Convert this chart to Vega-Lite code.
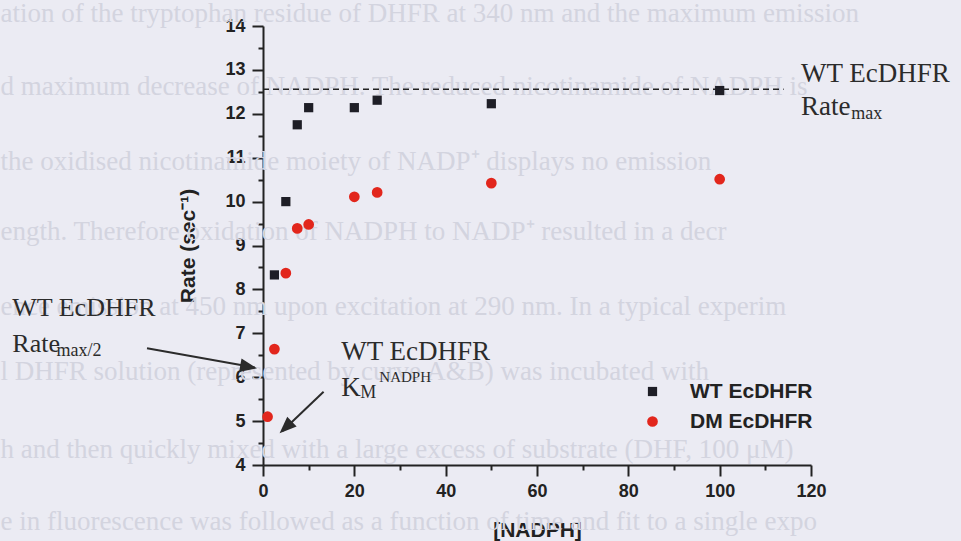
{
  "$schema": "https://vega.github.io/schema/vega-lite/v6.json",
  "width": 548,
  "height": 439,
  "autosize": "none",
  "padding": {"left": 263, "top": 26, "right": 150, "bottom": 76},
  "background": "#ebebf3",
  "config": {
    "view": {"stroke": null},
    "axis": {
      "grid": false,
      "domainColor": "#222222",
      "domainWidth": 2,
      "tickColor": "#222222",
      "tickWidth": 2,
      "tickSize": 11,
      "labelFont": "Liberation Sans",
      "labelFontWeight": "bold",
      "labelFontSize": 18,
      "labelColor": "#222222",
      "titleFont": "Liberation Sans",
      "titleFontWeight": "bold",
      "titleFontSize": 21,
      "titleColor": "#222222"
    }
  },
  "encoding": {
    "x": {
      "field": "x",
      "type": "quantitative",
      "scale": {"domain": [0, 120], "nice": false, "zero": false},
      "axis": {
        "title": "[NADPH]",
        "values": [0, 10, 20, 30, 40, 50, 60, 70, 80, 90, 100, 110, 120],
        "labelExpr": "datum.value % 20 === 0 ? format(datum.value, 'd') : ''",
        "tickDash": {"condition": {"test": "datum.value % 20 !== 0", "value": [5, 20]}, "value": [20, 1]},
        "labelPadding": 6,
        "labelFlush": false,
        "titlePadding": 19
      }
    },
    "y": {
      "field": "y",
      "type": "quantitative",
      "scale": {"domain": [4, 14], "nice": false, "zero": false},
      "axis": {
        "title": "Rate (sec⁻¹)",
        "values": [4, 4.5, 5, 5.5, 6, 6.5, 7, 7.5, 8, 8.5, 9, 9.5, 10, 10.5, 11, 11.5, 12, 12.5, 13, 13.5, 14],
        "labelExpr": "datum.value % 1 === 0 ? format(datum.value, 'd') : ''",
        "tickDash": {"condition": {"test": "datum.value % 1 !== 0", "value": [5, 20]}, "value": [20, 1]},
        "labelPadding": 7,
        "labelFlush": false,
        "titlePadding": 26
      }
    }
  },
  "layer": [
    {
      "description": "Faint page text printed behind the figure",
      "data": {"values": [
        {"x": -57.5, "y": 14.09, "label": "ation of the tryptophan residue of DHFR at 340 nm and the maximum emission"},
        {"x": -57.5, "y": 12.428, "label": "d maximum decrease of NADPH. The reduced nicotinamide of NADPH is"},
        {"x": -57.5, "y": 10.72, "label": "the   oxidised   nicotinamide   moiety   of   NADP⁺   displays   no   emission"},
        {"x": -57.5, "y": 9.125, "label": "ength.   Therefore   oxidation   of   NADPH   to   NADP⁺   resulted   in   a   decr"},
        {"x": -57.5, "y": 7.417, "label": "ence emission at 450 nm upon excitation at 290 nm. In a typical experim"},
        {"x": -57.5, "y": 5.936, "label": "l  DHFR  solution  (represented  by  curve  A&B)  was  incubated  with"},
        {"x": -57.5, "y": 4.159, "label": "h and then quickly mixed with a large excess of substrate (DHF, 100 μM)"},
        {"x": -57.5, "y": 2.519, "label": "e in fluorescence was followed as a function of time and fit to a single expo"}
      ]},
      "mark": {"type": "text", "align": "left", "baseline": "alphabetic", "font": "Liberation Serif", "fontSize": 27, "color": "#d3d4df"},
      "encoding": {"text": {"field": "label"}}
    },
    {
      "description": "Rate max reference line",
      "data": {"values": [{"x": 0, "x2": 114, "y": 12.56}]},
      "mark": {"type": "rule", "color": "#222222", "strokeWidth": 1.6, "strokeDash": [6, 4]},
      "encoding": {"x2": {"field": "x2"}}
    },
    {
      "data": {"values": [
        {"x": 2.5, "y": 8.33, "series": "WT EcDHFR"},
        {"x": 5, "y": 10.0, "series": "WT EcDHFR"},
        {"x": 7.5, "y": 11.75, "series": "WT EcDHFR"},
        {"x": 10, "y": 12.14, "series": "WT EcDHFR"},
        {"x": 20, "y": 12.14, "series": "WT EcDHFR"},
        {"x": 25, "y": 12.31, "series": "WT EcDHFR"},
        {"x": 50, "y": 12.23, "series": "WT EcDHFR"},
        {"x": 100, "y": 12.53, "series": "WT EcDHFR"},
        {"x": 1, "y": 5.1, "series": "DM EcDHFR"},
        {"x": 2.5, "y": 6.64, "series": "DM EcDHFR"},
        {"x": 5, "y": 8.37, "series": "DM EcDHFR"},
        {"x": 7.5, "y": 9.39, "series": "DM EcDHFR"},
        {"x": 10, "y": 9.48, "series": "DM EcDHFR"},
        {"x": 20, "y": 10.11, "series": "DM EcDHFR"},
        {"x": 25, "y": 10.21, "series": "DM EcDHFR"},
        {"x": 50, "y": 10.42, "series": "DM EcDHFR"},
        {"x": 100, "y": 10.51, "series": "DM EcDHFR"}
      ]},
      "mark": {"type": "point", "filled": true, "opacity": 1},
      "encoding": {
        "color": {
          "field": "series",
          "type": "nominal",
          "scale": {"domain": ["WT EcDHFR", "DM EcDHFR"], "range": ["#1e1e26", "#e2261c"]},
          "legend": {
            "title": null,
            "orient": "none",
            "legendX": 379,
            "legendY": 355,
            "padding": 0,
            "rowPadding": 8,
            "labelOffset": 27,
            "labelFont": "Liberation Sans",
            "labelFontWeight": "bold",
            "labelFontSize": 21,
            "labelColor": "#222222",
            "symbolSize": 90
          }
        },
        "shape": {
          "field": "series",
          "type": "nominal",
          "scale": {"domain": ["WT EcDHFR", "DM EcDHFR"], "range": ["square", "circle"]},
          "legend": {
            "title": null,
            "orient": "none",
            "legendX": 379,
            "legendY": 355,
            "padding": 0,
            "rowPadding": 8,
            "labelOffset": 27,
            "labelFont": "Liberation Sans",
            "labelFontWeight": "bold",
            "labelFontSize": 21,
            "labelColor": "#222222",
            "symbolSize": 90
          }
        },
        "size": {
          "field": "series",
          "type": "nominal",
          "scale": {"domain": ["WT EcDHFR", "DM EcDHFR"], "range": [85, 115]},
          "legend": null
        }
      }
    },
    {
      "description": "Annotation text, main size",
      "data": {"values": [
        {"x": 117.8, "y": 12.724, "label": "WT EcDHFR"},
        {"x": 117.8, "y": 11.973, "label": "Rate"},
        {"x": 17.14, "y": 6.392, "label": "WT EcDHFR"},
        {"x": 17.14, "y": 5.572, "label": "K"}
      ]},
      "mark": {"type": "text", "align": "left", "baseline": "alphabetic", "font": "Liberation Serif", "fontSize": 27, "color": "#2b2b2b"},
      "encoding": {"text": {"field": "label"}}
    },
    {
      "description": "Annotation text, left block",
      "data": {"values": [
        {"x": -54.9, "y": 7.394, "label": "WT EcDHFR"},
        {"x": -54.9, "y": 6.581, "label": "Rate"}
      ]},
      "mark": {"type": "text", "align": "left", "baseline": "alphabetic", "font": "Liberation Serif", "fontSize": 26, "color": "#2b2b2b"},
      "encoding": {"text": {"field": "label"}}
    },
    {
      "description": "Subscripts",
      "data": {"values": [
        {"x": 128.8, "y": 11.89, "label": "max"},
        {"x": -45.2, "y": 6.483, "label": "max/2"},
        {"x": 21.3, "y": 5.526, "label": "M"}
      ]},
      "mark": {"type": "text", "align": "left", "baseline": "alphabetic", "font": "Liberation Serif", "fontSize": 18, "color": "#2b2b2b"},
      "encoding": {"text": {"field": "label"}}
    },
    {
      "description": "Superscript",
      "data": {"values": [{"x": 25.47, "y": 5.897, "label": "NADPH"}]},
      "mark": {"type": "text", "align": "left", "baseline": "alphabetic", "font": "Liberation Serif", "fontSize": 15, "color": "#2b2b2b"},
      "encoding": {"text": {"field": "label"}}
    },
    {
      "description": "Arrow shafts",
      "data": {"values": [
        {"x": -25.4, "y": 6.658, "x2": -1.8, "y2": 6.22},
        {"x": 13.27, "y": 5.67, "x2": 4.2, "y2": 4.77}
      ]},
      "mark": {"type": "rule", "color": "#2b2b2b", "strokeWidth": 2},
      "encoding": {"x2": {"field": "x2"}, "y2": {"field": "y2"}}
    },
    {
      "description": "Arrow head for Rate max/2",
      "data": {"values": [{"x": -1.31, "y": 6.203}]},
      "mark": {"type": "point", "filled": true, "opacity": 1, "color": "#2b2b2b", "shape": "M0,0L-2,-0.8L-2,0.8Z", "size": 289, "angle": 10.3}
    },
    {
      "description": "Arrow head for KM",
      "data": {"values": [{"x": 3.63, "y": 4.722}]},
      "mark": {"type": "point", "filled": true, "opacity": 1, "color": "#2b2b2b", "shape": "M0,0L-2,-0.8L-2,0.8Z", "size": 289, "angle": 136.6}
    }
  ]
}
